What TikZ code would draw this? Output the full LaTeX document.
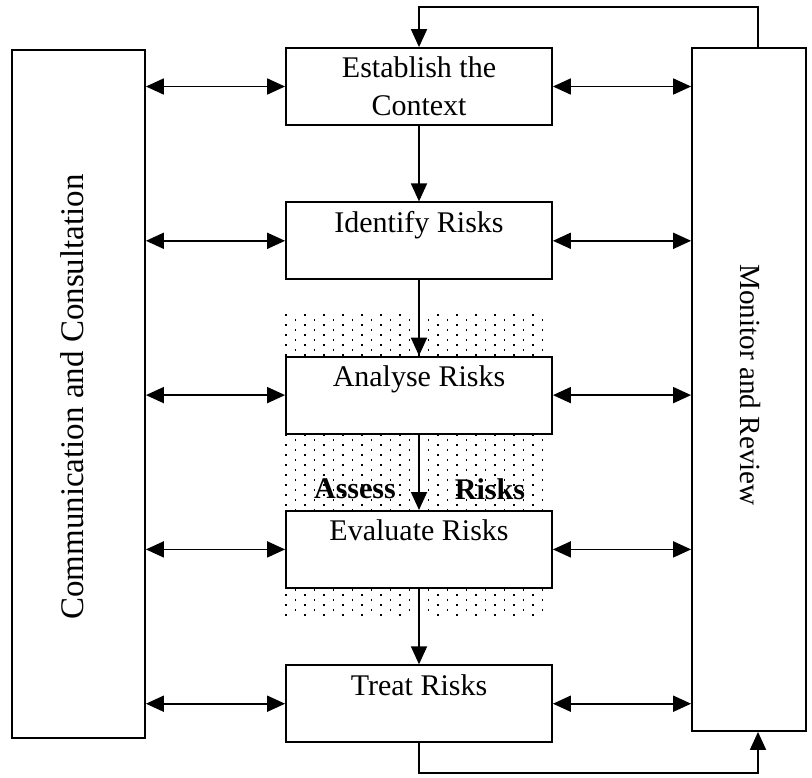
\documentclass[tikz,border=0pt]{standalone}
\usepackage{fontspec}
\setmainfont{Liberation Serif}
\usetikzlibrary{arrows.meta,positioning,calc}
\tikzset{
  dblarr/.style={{Triangle[length=9pt,width=8pt]}-{Triangle[length=9pt,width=8pt]}, line width=0.9pt},
  onearr/.style={-{Triangle[length=9pt,width=8pt]}, line width=0.9pt},
  stagebox/.style={draw, line width=0.9pt, fill=white, minimum width=133pt,
                   minimum height=38.5pt, inner sep=2pt, align=center,
                   font=\fontsize{15}{19}\selectfont},
  sidebox/.style={draw, line width=0.9pt, fill=white},
  sidetext/.style={font=\fontsize{15.5}{19}\selectfont},
  assesstext/.style={font=\bfseries\fontsize{15}{19}\selectfont, inner sep=0pt},
}
\begin{document}
\begin{tikzpicture}[x=0.5pt, y=-0.5pt, node distance=37.75pt]
  \useasboundingbox (0,0) rectangle (812,777);
  % dotted backdrop of the assessment steps
  \foreach \i in {0,...,27} {
    \foreach \j in {0,...,60} {
      \pgfmathtruncatemacro{\odd}{mod(\i+\j,2)}
      \ifnum\odd=0 \fill (285+9.5*\i, 314+5*\j) rectangle ++(1.6,2.4); \fi
    }
  }
  % process steps
  \node[stagebox] (est) at (419,86.5) {Establish the\\Context};
  \node[stagebox, below=of est] (ident) {Identify Risks\\\mbox{}};
  \node[stagebox, below=of ident] (analyse) {Analyse Risks\\\mbox{}};
  \node[stagebox, below=of analyse] (evaluate) {Evaluate Risks\\\mbox{}};
  \node[stagebox, below=of evaluate] (treat) {Treat Risks\\\mbox{}};
  % side columns
  \node[sidebox, minimum width=66.5pt, minimum height=344pt] (comm) at (78.5,394) {};
  \node[sidebox, minimum width=57pt, minimum height=341.5pt] (mon) at (749,389.5) {};
  \node[sidetext, font=\fontsize{16.5}{19}\selectfont, rotate=90] (commtext) at (72,397) {Communication and Consultation};
  \node[sidetext, font=\fontsize{14.6}{19}\selectfont, rotate=-90] (montext) at (750,385) {Monitor and Review};
  \node[assesstext] (assess) at (355,489) {Assess};
  \node[assesstext] (assessrisks) at (490,489) {Risks};
  % links to the side columns
  \foreach \s in {est,ident,analyse,evaluate,treat} {
    \draw[dblarr] (comm.east |- \s.west) -- (\s.west);
    \draw[dblarr] (\s.east) -- (mon.west |- \s.east);
  }
  % main flow
  \draw[onearr] (est) -- (ident);
  \draw[onearr] (ident) -- (analyse);
  \draw[onearr] (analyse) -- (evaluate);
  \draw[onearr] (evaluate) -- (treat);
  % feedback loops
  \coordinate (topturn) at (758,7);
  \coordinate (botturn) at (758,773);
  \draw[onearr] (mon.north -| topturn) -- (topturn) -| (est.north);
  \draw[onearr] (treat.south) |- (botturn) -- (mon.south -| botturn);
\end{tikzpicture}
\end{document}
